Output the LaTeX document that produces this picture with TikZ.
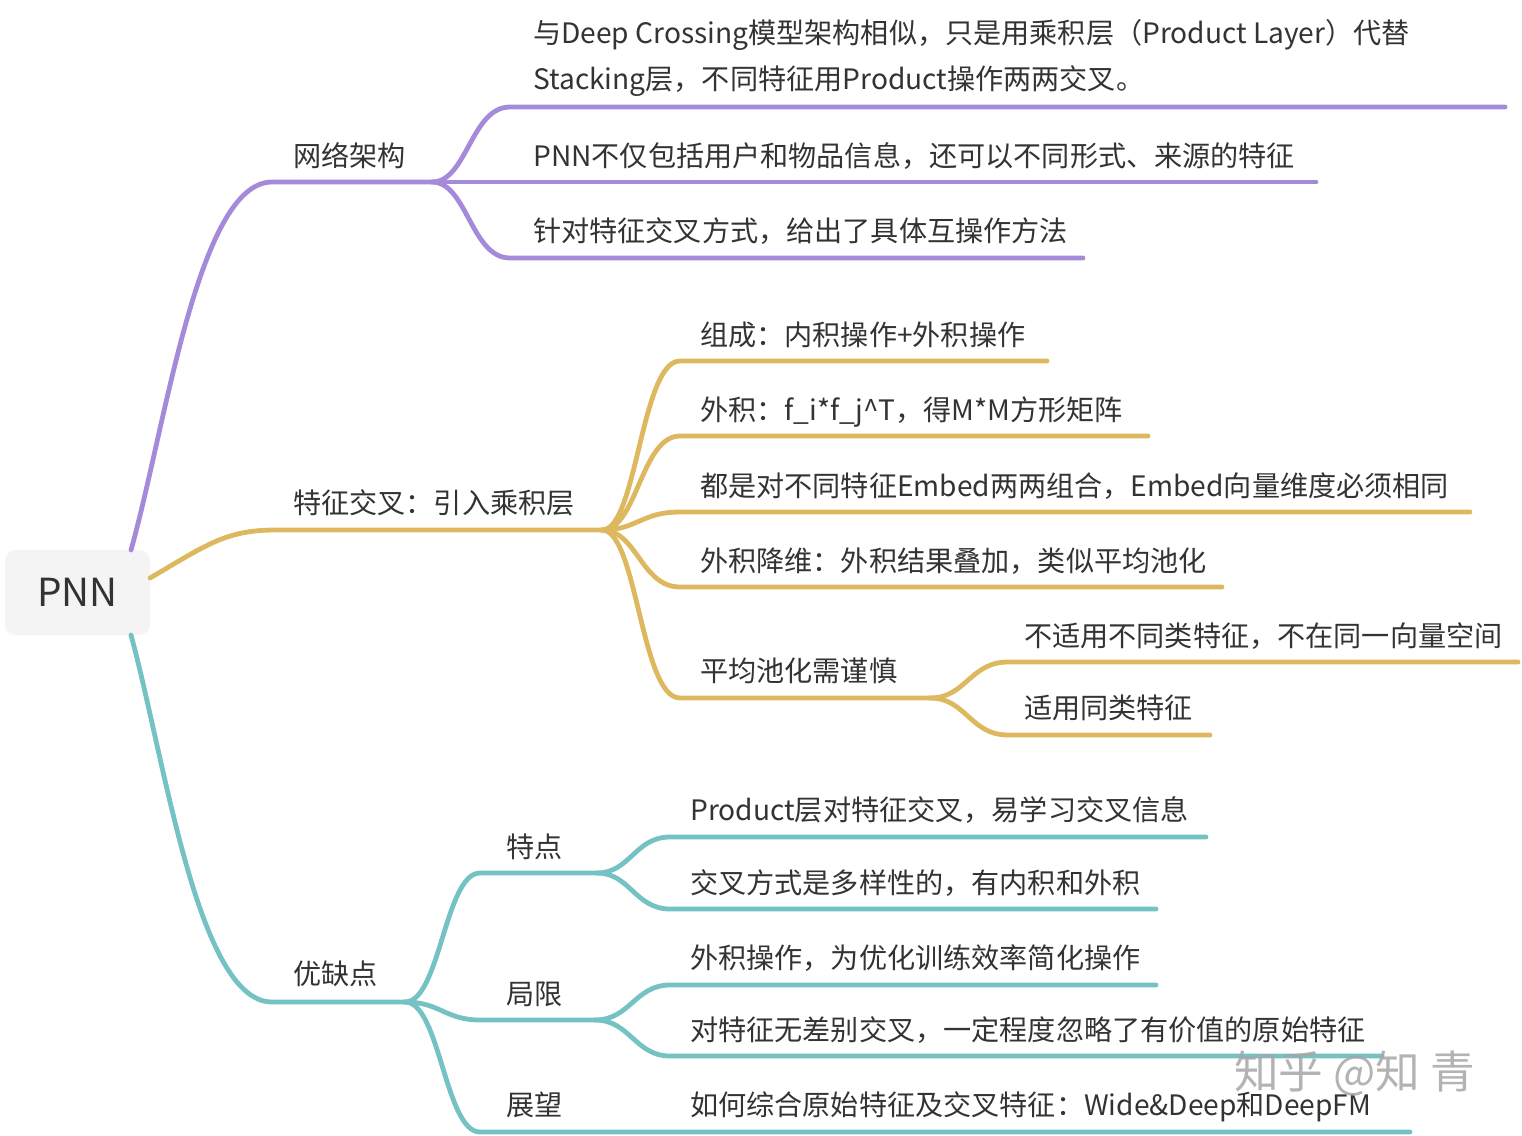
\documentclass[tikz,border=0pt]{standalone}
\usepackage{fontspec}
\setmainfont{Noto Sans CJK SC}
\definecolor{pur}{HTML}{A68ADA}
\definecolor{gld}{HTML}{DDB85E}
\definecolor{tea}{HTML}{74C2C4}
\definecolor{txt}{HTML}{333333}
\definecolor{rootfill}{HTML}{F4F4F4}
\begin{document}
\begin{tikzpicture}[x=0.75pt,y=-0.75pt,
  lbl/.style={anchor=base west, inner sep=0pt, text=txt, font=\fontsize{21.1}{25}\selectfont},
  br/.style={line width=3.6pt, line cap=round}]
\useasboundingbox (0,0) rectangle (1522,1136);

% root
\node[fill=rootfill, rounded corners=8pt, minimum width=108.75pt, minimum height=63.75pt,
      text=txt, font=\fontsize{29}{34}\selectfont, inner sep=0pt] (pnn) at (77.5,592.5) {PNN};

% ---------- purple branch ----------
\coordinate (pS) at (131,550);
\coordinate (pF) at (432,182);
\draw[br,pur] (pS) .. controls (165,430) and (198,182) .. (272,182) -- (pF);
\draw[br,pur] (pF) .. controls (467,182) and (471,107) .. (510,107) -- (1505,107);
\draw[br,pur] (pF) -- (1316,182);
\draw[br,pur] (pF) .. controls (467,182) and (471,258) .. (510,258) -- (1083,258);

\node[lbl] (p0) at (293,166) {网络架构};
\node[lbl] (p1a) at (533,43) {与Deep Crossing模型架构相似，只是用乘积层（Product Layer）代替};
\node[lbl] (p1b) at (533,89) {Stacking层，不同特征用Product操作两两交叉。};
\node[lbl] (p2) at (533,166) {PNN不仅包括用户和物品信息，还可以不同形式、来源的特征};
\node[lbl] (p3) at (533,241) {针对特征交叉方式，给出了具体互操作方法};

% ---------- gold branch ----------
\coordinate (gS) at (150,578);
\coordinate (gF) at (602,530);
\draw[br,gld] (gS) .. controls (205,546) and (225,530) .. (275,530) -- (gF);
\draw[br,gld] (gF) .. controls (637,530) and (641,361) .. (680,361) -- (1047,361);
\draw[br,gld] (gF) .. controls (637,530) and (641,436) .. (680,436) -- (1148,436);
\draw[br,gld] (gF) .. controls (637,530) and (641,512) .. (680,512) -- (1470,512);
\draw[br,gld] (gF) .. controls (637,530) and (641,587) .. (680,587) -- (1222,587);
\coordinate (gF2) at (930,698);
\draw[br,gld] (gF) .. controls (637,530) and (641,698) .. (680,698) -- (gF2);
\draw[br,gld] (gF2) .. controls (966,698) and (970,662) .. (1008,662) -- (1518,662);
\draw[br,gld] (gF2) .. controls (966,698) and (970,735) .. (1008,735) -- (1210,735);

\node[lbl] (g0) at (293,513) {特征交叉：引入乘积层};
\node[lbl] (g1) at (700,345) {组成：内积操作+外积操作};
\node[lbl] (g2) at (700,420) {外积：f\_i*f\_j\^{}T，得M*M方形矩阵};
\node[lbl] (g3) at (700,496) {都是对不同特征Embed两两组合，Embed向量维度必须相同};
\node[lbl] (g4) at (700,571) {外积降维：外积结果叠加，类似平均池化};
\node[lbl] (g5) at (700,681) {平均池化需谨慎};
\node[lbl] (g51) at (1024,646) {不适用不同类特征，不在同一向量空间};
\node[lbl] (g52) at (1024,718) {适用同类特征};

% ---------- teal branch ----------
\coordinate (tS) at (131,635);
\coordinate (tF) at (405,1002);
\draw[br,tea] (tS) .. controls (165,760) and (198,1002) .. (272,1002) -- (tF);
\coordinate (tF1) at (597,873);
\coordinate (tF2) at (595,1020);
\draw[br,tea] (tF) .. controls (440,1002) and (445,873) .. (480,873) -- (tF1);
\draw[br,tea] (tF) .. controls (440,1002) and (445,1020) .. (480,1020) -- (tF2);
\draw[br,tea] (tF) .. controls (440,1002) and (445,1132) .. (480,1132) -- (1410,1132);
\draw[br,tea] (tF1) .. controls (630,873) and (635,837) .. (670,837) -- (1206,837);
\draw[br,tea] (tF1) .. controls (630,873) and (635,909) .. (670,909) -- (1156,909);
\draw[br,tea] (tF2) .. controls (630,1020) and (635,985) .. (670,985) -- (1156,985);
\draw[br,tea] (tF2) .. controls (630,1020) and (635,1056) .. (670,1056) -- (1382,1056);

\node[lbl] (t0) at (293,984) {优缺点};
\node[lbl] (t1) at (506,857) {特点};
\node[lbl] (t2) at (506,1004) {局限};
\node[lbl] (t3) at (506,1115) {展望};
\node[lbl] (t11) at (690,820) {Product层对特征交叉，易学习交叉信息};
\node[lbl] (t12) at (690,893) {交叉方式是多样性的，有内积和外积};
\node[lbl] (t21) at (690,968) {外积操作，为优化训练效率简化操作};
\node[lbl] (t22) at (690,1040) {对特征无差别交叉，一定程度忽略了有价值的原始特征};
\node[lbl] (t31) at (690,1115) {如何综合原始特征及交叉特征：Wide\&Deep和DeepFM};

% watermark
\node[anchor=base west, inner sep=0pt, text=gray!70, opacity=0.85,
      font=\fontsize{33.5}{38}\selectfont] (wm) at (1234,1088) {知乎 @知 青};
\end{tikzpicture}
\end{document}
